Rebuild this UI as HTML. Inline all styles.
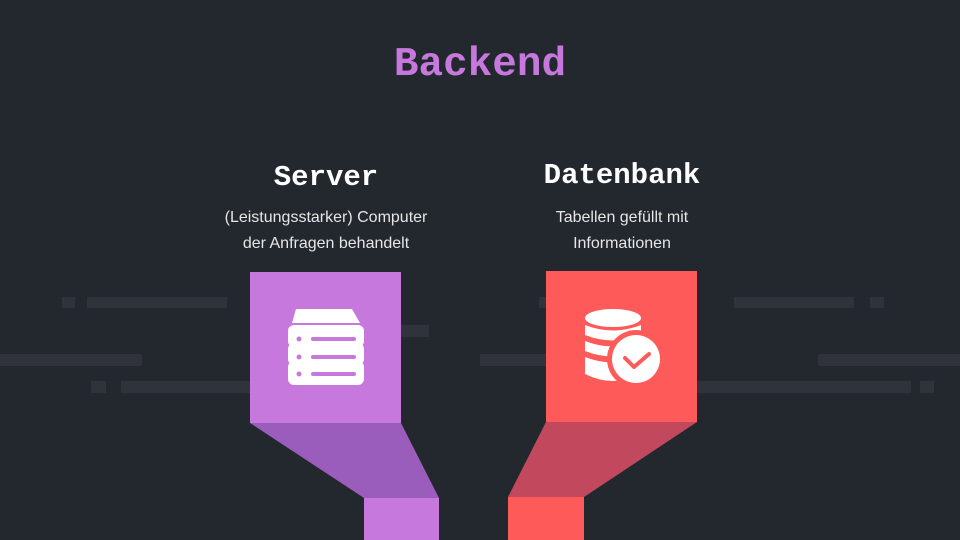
<!DOCTYPE html>
<html><head><meta charset="utf-8"><style>
body{margin:0;width:960px;height:540px;background:#23272e;overflow:hidden;position:relative;font-family:"Liberation Sans",sans-serif}
.t{position:absolute;text-align:center;color:#fff}
</style></head><body>
<svg width="960" height="540" style="position:absolute;left:0;top:0">
<g fill="#30333b">
<rect x="62" y="297" width="13" height="11"/><rect x="87" y="297" width="140" height="11"/>
<rect x="734" y="297" width="120" height="11"/><rect x="870" y="297" width="14" height="11"/>
<rect x="539" y="297" width="10" height="11"/>
<rect x="395" y="325" width="34" height="12"/>
<rect x="0" y="354" width="142" height="12"/><rect x="480" y="354" width="70" height="12"/><rect x="818" y="354" width="142" height="12"/>
<rect x="91" y="381" width="15" height="12"/><rect x="121" y="381" width="132" height="12"/>
<rect x="694" y="381" width="217" height="12"/><rect x="920" y="381" width="14" height="12"/>
</g>
<polygon points="250,423 401,423 439,498 364,498" fill="#9a5dbb"/>
<rect x="364" y="498" width="75" height="42" fill="#c678dd"/>
<rect x="250" y="272" width="151" height="151" fill="#c678dd"/>
<polygon points="546,422 697,422 584,497 508,497" fill="#c2495d"/>
<rect x="508" y="497" width="76" height="43" fill="#ff5a5a"/>
<rect x="546" y="271" width="151" height="151" fill="#ff5a5a"/>
<g fill="#fff">
<path d="M296,309 H352 L360,323 H292 Z"/>
<rect x="288" y="325" width="76" height="22" rx="6"/>
<rect x="288" y="343" width="76" height="22" rx="6"/>
<rect x="288" y="361" width="76" height="24" rx="6"/>
</g>
<g fill="#c678dd">
<circle cx="299" cy="339" r="2.5"/><circle cx="299" cy="357" r="2.5"/><circle cx="299" cy="374" r="2.5"/>
<rect x="311" y="337" width="45" height="4" rx="2"/><rect x="311" y="355" width="45" height="4" rx="2"/><rect x="311" y="372" width="45" height="4" rx="2"/>
</g>
<g fill="#fff">
<ellipse cx="613" cy="318" rx="28" ry="9"/>
<path d="M585,325 Q613,336 641,325 V335 Q613,346 585,335 Z"/>
<path d="M585,341 Q613,352 641,341 V351 Q613,362 585,351 Z"/>
<path d="M585,357 Q613,368 641,357 V374 Q613,388 585,374 Z"/>
</g>
<circle cx="636" cy="359" r="29" fill="#ff5a5a"/>
<circle cx="636" cy="359" r="24" fill="#fff"/>
<polyline points="625,358 634,367 649,354" fill="none" stroke="#ff5a5a" stroke-width="4" stroke-linecap="round" stroke-linejoin="round"/>
</svg>
<div class="t" style="left:0;width:960px;top:42px;font:bold 41px 'Liberation Mono',monospace;color:#c678dd">Backend</div>
<div class="t" style="left:176px;width:300px;top:161px;font:bold 29px 'Liberation Mono',monospace">Server</div>
<div class="t" style="left:472px;width:300px;top:159px;font:bold 29px 'Liberation Mono',monospace">Datenbank</div>
<div class="t" style="left:126px;width:400px;top:205px;font-size:16px;line-height:26px;color:#e6e6e6">(Leistungsstarker) Computer<br>der Anfragen behandelt</div>
<div class="t" style="left:422px;width:400px;top:205px;font-size:16px;line-height:26px;color:#e6e6e6">Tabellen gefüllt mit<br>Informationen</div>
</body></html>
